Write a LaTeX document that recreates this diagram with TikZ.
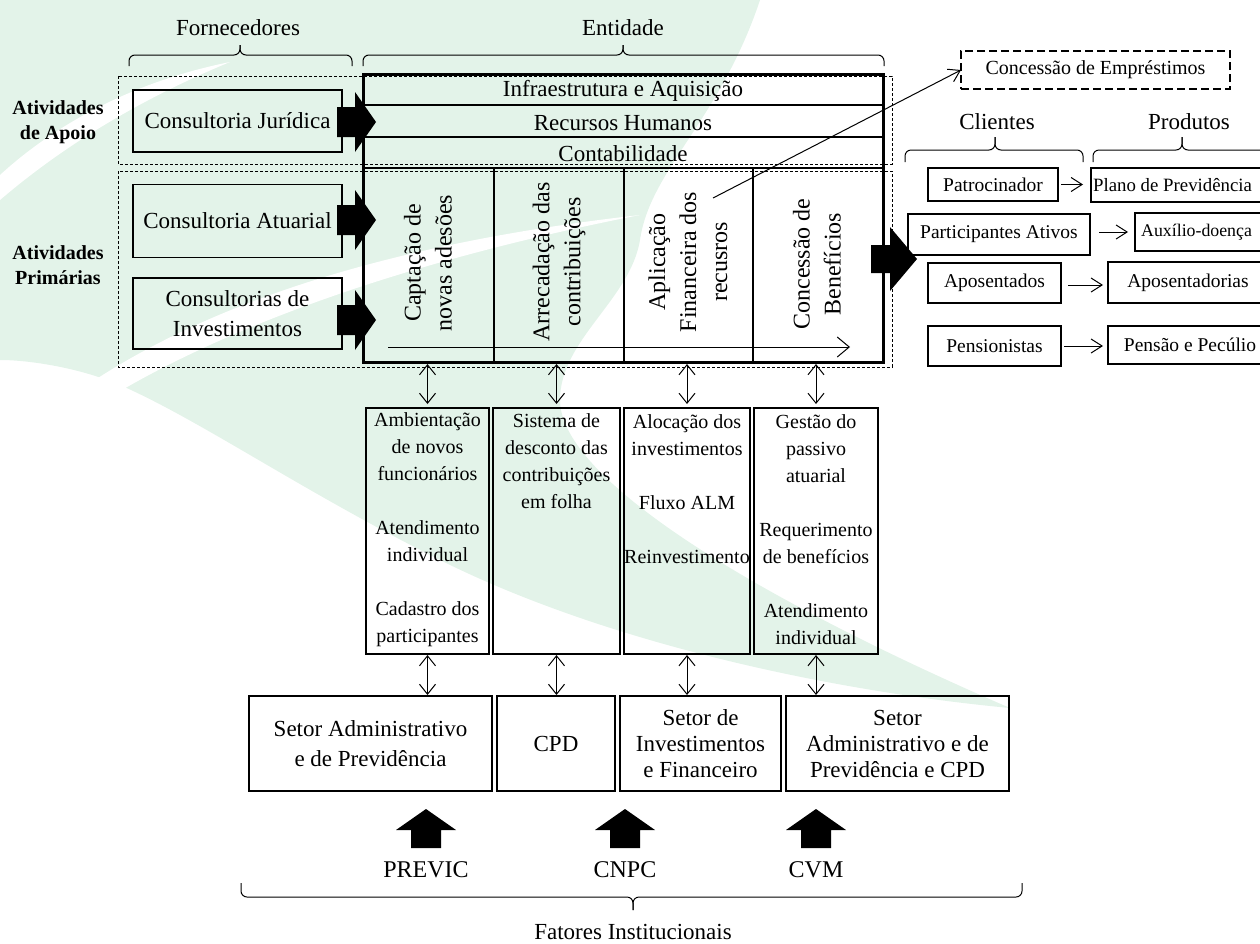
\documentclass[tikz,border=0pt]{standalone}
\usepackage{fontspec}
\setmainfont{Liberation Serif}
\usetikzlibrary{arrows.meta}
\definecolor{wm}{RGB}{227,243,233}
\tikzset{
 box/.style={draw, line width=1.3pt, inner sep=0pt, outer sep=0pt, align=center},
 dbox/.style={draw, dash pattern=on 3pt off 2pt, line width=1pt},
 big/.style={font=\fontsize{23}{28}\selectfont, align=center},
 med/.style={font=\fontsize{20}{27}\selectfont, align=center},
 rmed/.style={font=\fontsize{19.5}{24}\selectfont, align=center},
 rot/.style={font=\fontsize{24}{31}\selectfont, align=center, rotate=90, inner sep=0pt},
 boldlab/.style={font=\fontsize{20}{25}\selectfont\bfseries, align=center},
 darr/.style={{Straight Barb[length=10pt,width=16pt]}-{Straight Barb[length=10pt,width=16pt]}, line width=1pt},
 sarr/.style={-{Straight Barb[length=11pt,width=14pt]}, line width=1pt},
 larr/.style={-{Straight Barb[length=12pt,width=20pt]}, line width=1pt},
 bracepath/.style={line width=1pt, rounded corners=6pt},
 thickright/.pic={\fill (-39,-15) -- (-21,-15) -- (-21,-30) -- (0,0) -- (-21,30) -- (-21,15) -- (-39,15) -- cycle;},
 bigright/.pic={\fill (-46,-14) -- (-27,-14) -- (-27,-32) -- (0,0) -- (-27,32) -- (-27,14) -- (-46,14) -- cycle;},
 thickup/.pic={\fill (-15,39) -- (-15,21) -- (-30,21) -- (0,0) -- (30,21) -- (15,21) -- (15,39) -- cycle;}
}
\begin{document}
\begin{tikzpicture}[x=1pt,y=-1pt]
\useasboundingbox (0,0) rectangle (1260,943);
\clip (0,0) rectangle (1260,943);
% watermark
\fill[wm] (0,0) -- (760,0) .. controls (720,120) and (650,170) .. (640,240)
  .. controls (630,300) and (560,340) .. (560,400)
  .. controls (560,480) and (760,600) .. (1010,708)
  .. controls (820,690) and (600,640) .. (440,560)
  .. controls (300,490) and (200,420) .. (120,385)
  .. controls (80,368) and (30,360) .. (0,360) -- cycle;
\fill[white] (0,175) .. controls (60,120) and (140,80) .. (230,62)
  .. controls (150,95) and (70,140) .. (0,200) -- cycle;
\fill[white] (40,420) .. controls (150,330) and (330,250) .. (640,215)
  .. controls (360,270) and (170,350) .. (60,430) -- cycle;

% headings and braces
\node[big] (forn) at (238,28) {Fornecedores};
\node[big] (entl) at (623,28) {Entidade};
\draw[bracepath] (129,66) -- (129,55) -- (240,55) -- (240,45);
\draw[bracepath] (240,45) -- (240,55) -- (352,55) -- (352,66);
\draw[bracepath] (363,66) -- (363,55) -- (623,55) -- (623,45);
\draw[bracepath] (623,45) -- (623,55) -- (884,55) -- (884,66);

% dashed activity boxes
\draw[dbox] (118,76) rectangle (892,164);
\draw[dbox] (118,171) rectangle (892,367);
\node[boldlab] (apoio) at (58,122) {Atividades\\de Apoio};
\node[boldlab] (prim) at (58,265) {Atividades\\Primárias};

% suppliers
\node[box, big, minimum width=209pt, minimum height=62pt] (jur) at (237.5,121) {Consultoria Jurídica};
\node[box, big, minimum width=209pt, minimum height=73pt] (atu) at (237.5,221) {Consultoria Atuarial};
\node[box, big, minimum width=209pt, minimum height=71pt] (inv) at (237.5,313.5) {Consultorias de\\[2pt]Investimentos};
\pic at (376,122) {thickright};
\pic at (376,220) {thickright};
\pic at (376,320) {thickright};

% entity
\node[draw, line width=3pt, minimum width=520pt, minimum height=288pt, inner sep=0pt, outer sep=0pt] (ent) at (623,218) {};
\draw[line width=2pt] (363,105) -- (883,105);
\draw[line width=2pt] (363,137) -- (883,137);
\draw[line width=2pt] (363,168) -- (883,168);
\draw[line width=2pt] (494,168) -- (494,362);
\draw[line width=2pt] (624,168) -- (624,362);
\draw[line width=2pt] (753,168) -- (753,362);
\node[big] (infra) at (623,91) {Infraestrutura e Aquisição};
\node[big] (rh) at (623,123) {Recursos Humanos};
\node[big] (cont) at (623,154) {Contabilidade};
\node[rot] (c1) at (428,263) {Captação de\\novas adesões};
\node[rot] (c2) at (559,262) {Arrecadação das\\contribuições};
\node[rot] (c3) at (688,262) {Aplicação\\Financeira dos\\recusros};
\node[rot] (c4) at (817,264) {Concessão de\\Benefícios};
\coordinate (fs) at (388,347);
\coordinate (fe) at (850,347);
\draw[larr] (fs) -- (fe);
\pic at (917,259) {bigright};

% loans
\node[draw, dash pattern=on 8pt off 4pt, line width=1.3pt, minimum width=269pt, minimum height=38pt, inner sep=0pt, outer sep=0pt, med] (emp) at (1095.5,70) {Concessão de Empréstimos};
\coordinate (apl) at (713,198);
\draw[sarr] (apl) -- (emp.west);

% clients and products
\node[big] (cli) at (997,122) {Clientes};
\node[big] (prod) at (1189,122) {Produtos};
\draw[bracepath] (905,162) -- (905,150) -- (995,150) -- (995,137);
\draw[bracepath] (995,137) -- (995,150) -- (1083,150) -- (1083,162);
\draw[bracepath] (1093,162) -- (1093,150) -- (1182,150) -- (1182,137);
\draw[bracepath] (1182,137) -- (1182,150) -- (1290,150) -- (1290,162);
\node[box, rmed, minimum width=130pt, minimum height=33pt] (pat) at (993,184.5) {Patrocinador};
\node[box, minimum width=190pt, minimum height=34pt] (plano) at (1186,185) {};
\node[font=\fontsize{18.8}{22}\selectfont, anchor=west, inner sep=0pt] (planot) at (1093,185) {Plano de Previdência};
\node[box, rmed, minimum width=182pt, minimum height=41pt] (part) at (999,234.5) {Participantes Ativos};
\node[box, minimum width=160pt, minimum height=38pt] (aux) at (1215,232) {};
\node[font=\fontsize{17.8}{22}\selectfont, anchor=west, inner sep=0pt] (auxt) at (1141,232) {Auxílio-doença};
\node[box, rmed, minimum width=133pt, minimum height=40pt] (apos) at (994.5,283) {Aposentados};
\node[box, rmed, minimum width=160pt, minimum height=41pt] (aposd) at (1188,282.5) {Aposentadorias};
\node[box, rmed, minimum width=133pt, minimum height=40pt] (pens) at (994.5,346) {Pensionistas};
\node[box, rmed, minimum width=164pt, minimum height=38pt] (pensp) at (1190,345) {Pensão e Pecúlio};
\draw[sarr, shorten <=3pt, shorten >=8pt] (pat.east) -- (plano.west |- pat.east);
\draw[sarr, shorten <=9pt, shorten >=7pt] (part.east |- aux.west) -- (aux.west);
\draw[sarr, shorten <=7pt, shorten >=5pt] (apos.east |- 0,285) -- (aposd.west |- 0,285);
\draw[sarr, shorten <=3pt, shorten >=5pt] (pens.east) -- (pensp.west |- pens.east);

% middle boxes
\node[box, minimum width=123pt, minimum height=246pt] (m1) at (427.5,531) {};
\node[box, minimum width=127pt, minimum height=246pt] (m2) at (556.5,531) {};
\node[box, minimum width=126pt, minimum height=246pt] (m3) at (687,531) {};
\node[box, minimum width=124pt, minimum height=246pt] (m4) at (816,531) {};
\node[med, inner sep=0pt] (t1) at (427.5,530) {Ambientação\\de novos\\funcionários\\[27pt]Atendimento\\individual\\[27pt]Cadastro dos\\participantes};
\node[med, inner sep=0pt] (t2) at (556.5,461.5) {Sistema de\\desconto das\\contribuições\\em folha};
\node[med, inner sep=0pt] (t3) at (687,489) {Alocação dos\\investimentos\\[27pt]Fluxo ALM\\[27pt]Reinvestimento};
\node[med, inner sep=0pt] (t4) at (816,530) {Gestão do\\passivo\\atuarial\\[27pt]Requerimento\\de benefícios\\[27pt]Atendimento\\individual};
\foreach \m in {m1,m2,m3,m4}{
  \draw[darr, shorten <=2pt, shorten >=4pt] (\m.north |- ent.south) -- (\m.north);
}

% bottom boxes
\node[box, minimum width=243pt, minimum height=95pt, font=\fontsize{23}{30}\selectfont] (b1) at (370.5,743.5) {Setor Administrativo\\e de Previdência};
\node[box, big, minimum width=118pt, minimum height=95pt] (b2) at (556,743.5) {CPD};
\node[box, minimum width=161pt, minimum height=95pt, font=\fontsize{23}{26}\selectfont] (b3) at (700.5,743.5) {Setor de\\Investimentos\\e Financeiro};
\node[box, minimum width=223pt, minimum height=95pt, font=\fontsize{23}{26}\selectfont] (b4) at (897.5,743.5) {Setor\\Administrativo e de\\Previdência e CPD};
\draw[darr, shorten <=1pt, shorten >=1pt] (m1.south) -- (m1.south |- b1.north);
\draw[darr, shorten <=1pt, shorten >=1pt] (m2.south) -- (m2.south |- b2.north);
\draw[darr, shorten <=1pt, shorten >=1pt] (m3.south) -- (m3.south |- b3.north);
\draw[darr, shorten <=1pt, shorten >=1pt] (m4.south) -- (m4.south |- b4.north);

% institutional factors
\pic at (426,809) {thickup};
\pic at (625,809) {thickup};
\pic at (816,809) {thickup};
\node[font=\fontsize{24}{28}\selectfont] (previc) at (426,870) {PREVIC};
\node[font=\fontsize{24}{28}\selectfont] (cnpc) at (625,870) {CNPC};
\node[font=\fontsize{24}{28}\selectfont] (cvm) at (816,870) {CVM};
\draw[bracepath] (241,883) -- (241,897) -- (633,897) -- (633,910);
\draw[bracepath] (633,910) -- (633,897) -- (1022,897) -- (1022,883);
\node[big] (fat) at (633,932) {Fatores Institucionais};
\end{tikzpicture}
\end{document}
